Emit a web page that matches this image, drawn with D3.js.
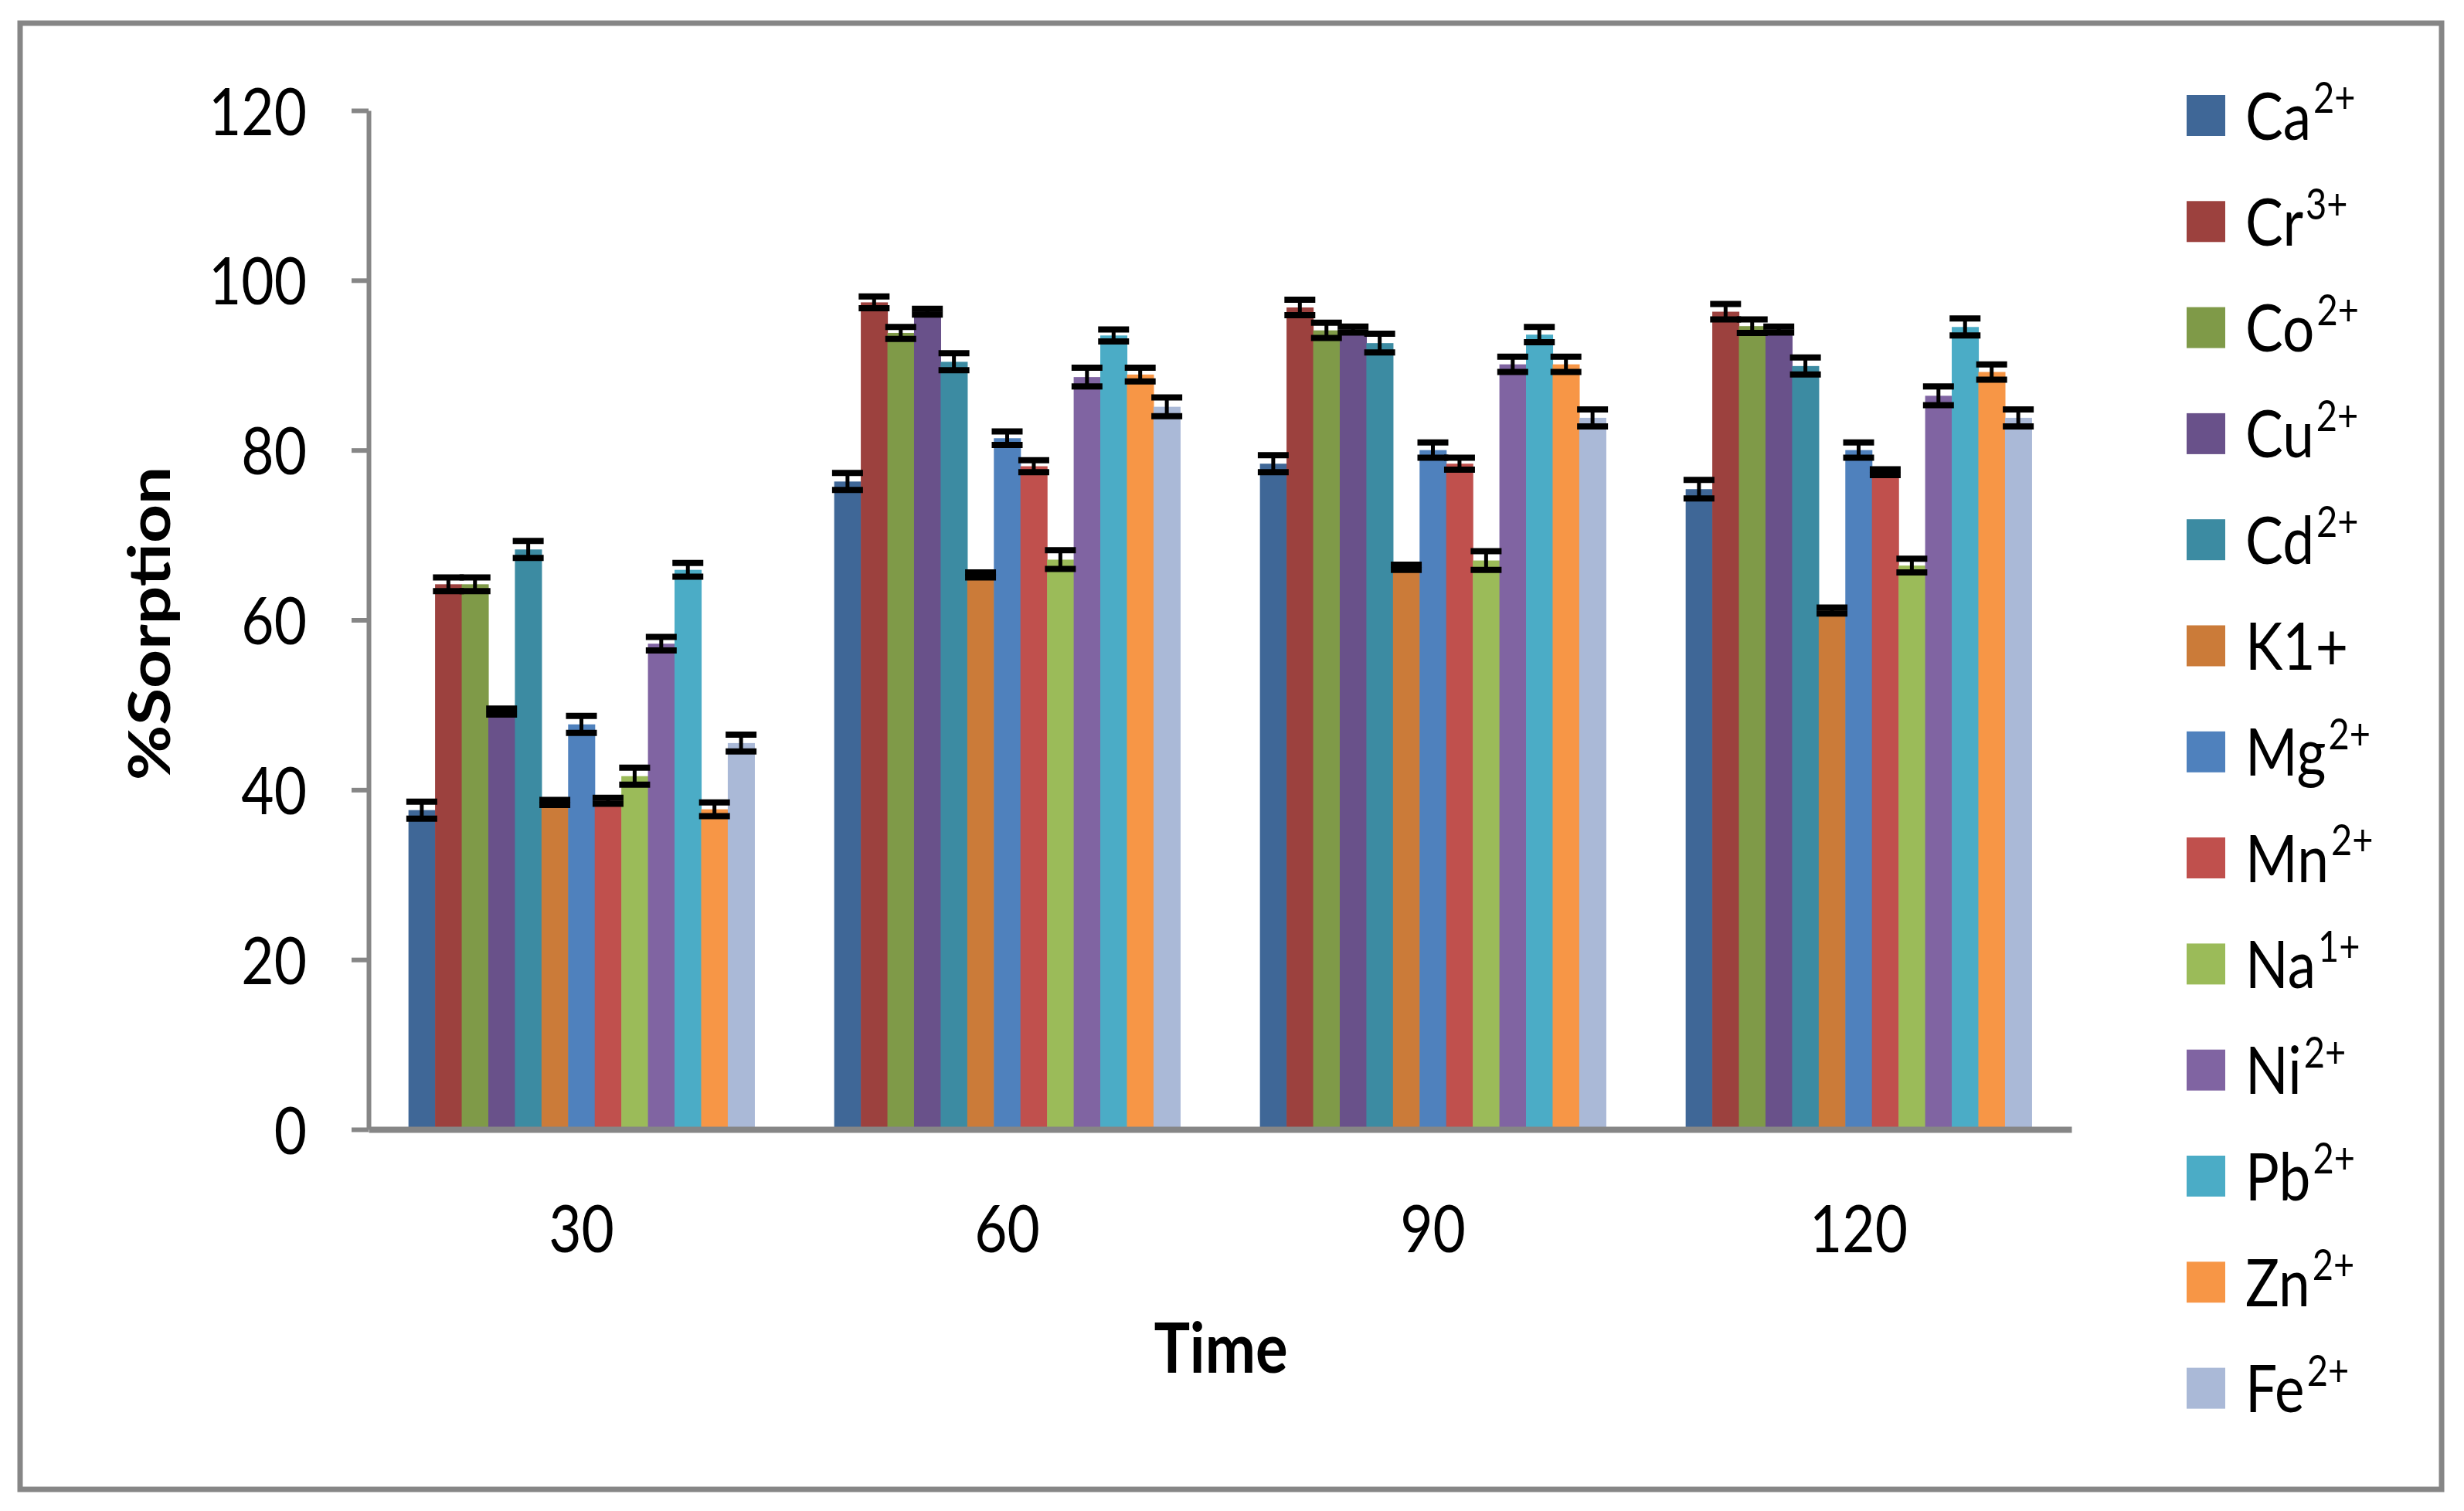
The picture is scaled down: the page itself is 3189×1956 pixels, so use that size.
<!DOCTYPE html>
<html>
<head>
<meta charset="utf-8">
<script src="https://cdn.jsdelivr.net/npm/d3@7"></script>
<style>
  body { margin: 0; background: #fff; }
  text { font-family: Lato, "Open Sans", sans-serif; fill: #000; }
</style>
</head>
<body>
<script>
var W = 3189, H = 1956
var margin = {top: 143, right: 508, bottom: 494, left: 477}

// data
var times = ["30", "60", "90", "120"]
var ions = ["Ca", "Cr", "Co", "Cu", "Cd", "K1+", "Mg", "Mn", "Na", "Ni", "Pb", "Zn", "Fe"]
var charges = ["2+", "3+", "2+", "2+", "2+", "", "2+", "2+", "1+", "2+", "2+", "2+", "2+"]
var colors = ["#3F6797", "#9C413E", "#7F9A48", "#69518A", "#3C8BA2", "#CB7B39", "#4F81BD",
              "#C0504D", "#9BBB59", "#8064A2", "#4BACC6", "#F79646", "#AAB9D7"]

var s30  = [37.6, 64.2, 64.2, 49.2, 68.3, 38.5, 47.7, 38.7, 41.6, 57.2, 65.9, 37.7, 45.5]
var s60  = [76.3, 97.4, 93.8, 96.3, 90.4, 65.3, 81.4, 78.1, 67.1, 88.6, 93.5, 88.9, 85.1]
var s90  = [78.4, 96.8, 94.1, 94.2, 92.6, 66.2, 80.0, 78.4, 67.0, 90.1, 93.6, 90.1, 83.8]
var s120 = [75.4, 96.3, 94.6, 94.2, 89.9, 61.1, 80.0, 77.4, 66.4, 86.4, 94.5, 89.2, 83.8]

var e30  = [1.0, 0.8, 0.8, 0.35, 1.0, 0.3, 1.0, 0.35, 1.0, 0.8, 0.8, 0.8, 1.0]
var e60  = [1.0, 0.7, 0.7, 0.35, 1.0, 0.3, 0.8, 0.7, 1.1, 1.1, 0.7, 0.8, 1.1]
var e90  = [1.0, 0.9, 0.9, 0.35, 1.1, 0.3, 0.9, 0.7, 1.1, 0.9, 0.9, 0.9, 1.0]
var e120 = [1.1, 0.9, 0.8, 0.35, 1.0, 0.35, 0.9, 0.35, 0.8, 1.1, 1.0, 0.9, 1.0]

var yTicks = [0, 20, 40, 60, 80, 100, 120]

var values = [s30, s60, s90, s120]
var errors = [e30, e60, e90, e120]

var stretch = 1.18   // the picture's text is a bit taller than wide
var grey = "#868686"

var width = W - margin.left - margin.right
var height = H - margin.top - margin.bottom

var svg = d3.select("body").append("svg")
    .attr("width", W)
    .attr("height", H)

svg.append("rect").attr("width", W).attr("height", H).attr("fill", "#fff")

// outer frame
svg.append("rect")
    .attr("x", 26).attr("y", 30)
    .attr("width", 3134).attr("height", 1898)
    .attr("fill", "none")
    .attr("stroke", grey)
    .attr("stroke-width", 7)

var g = svg.append("g")
    .attr("transform", "translate(" + margin.left + "," + margin.top + ")")

var x0 = d3.scaleBand()
    .domain(times)
    .range([0, width])
    .paddingInner(3 / 16)
    .paddingOuter(3 / 32)
var x1 = d3.scaleBand()
    .domain(ions)
    .range([0, x0.bandwidth()])
var yScale = d3.scaleLinear()
    .domain([0, 120])
    .range([height, 0])

var groups = g.selectAll(".group")
    .data(times)
    .enter().append("g")
    .attr("class", "group")
    .attr("transform", function(d) { return "translate(" + x0(d) + ",0)" })

groups.each(function(t, ti) {
    var rows = ions.map(function(ion, i) {
        return {ion: ion, v: values[ti][i], e: errors[ti][i], c: colors[i]}
    })
    var grp = d3.select(this)
    grp.selectAll("rect")
        .data(rows)
        .enter().append("rect")
        .attr("x", function(d) { return x1(d.ion) })
        .attr("y", function(d) { return yScale(d.v) })
        .attr("width", x1.bandwidth() + 0.6)
        .attr("height", function(d) { return yScale(0) - yScale(d.v) })
        .attr("fill", function(d) { return d.c })

    var eb = grp.selectAll(".err")
        .data(rows)
        .enter().append("g")
        .attr("class", "err")
        .attr("transform", function(d) { return "translate(" + (x1(d.ion) + x1.bandwidth() / 2) + ",0)" })
    eb.append("line")
        .attr("y1", function(d) { return yScale(d.v - d.e) })
        .attr("y2", function(d) { return yScale(d.v + d.e) })
        .attr("stroke", "#000").attr("stroke-width", 5)
    eb.append("line")
        .attr("x1", -20).attr("x2", 20)
        .attr("y1", function(d) { return yScale(d.v + d.e) })
        .attr("y2", function(d) { return yScale(d.v + d.e) })
        .attr("stroke", "#000").attr("stroke-width", 8)
    eb.append("line")
        .attr("x1", -20).attr("x2", 20)
        .attr("y1", function(d) { return yScale(d.v - d.e) })
        .attr("y2", function(d) { return yScale(d.v - d.e) })
        .attr("stroke", "#000").attr("stroke-width", 8)
})

// y axis
var yAxis = g.append("g")
    .call(d3.axisLeft(yScale).tickValues(yTicks).tickSize(22).tickSizeOuter(0).tickPadding(58))
yAxis.select(".domain").attr("stroke", grey).attr("stroke-width", 6)
yAxis.selectAll(".tick line").attr("stroke", grey).attr("stroke-width", 6)
yAxis.selectAll(".tick text")
    .attr("font-family", "Lato, sans-serif")
    .attr("font-size", 73)
    .attr("fill", "#000")
    .attr("dy", "0.36em")
    .attr("transform", "scale(1," + stretch + ")")

// x axis
var xAxis = g.append("g")
    .attr("transform", "translate(0," + height + ")")
    .call(d3.axisBottom(x0).tickSize(0).tickSizeOuter(0))
xAxis.select(".domain").attr("stroke", grey).attr("stroke-width", 8)
xAxis.selectAll(".tick text")
    .attr("font-family", "Lato, sans-serif")
    .attr("font-size", 73)
    .attr("fill", "#000")
    .attr("y", 0).attr("dy", 0)
    .attr("transform", "translate(0,159) scale(1," + stretch + ")")

// axis titles
svg.append("g")
    .attr("transform", "translate(1580,1777) scale(1,1.15)")
    .append("text")
    .attr("text-anchor", "middle")
    .attr("font-size", 78)
    .attr("font-weight", "bold")
    .text("Time")

svg.append("g")
    .attr("transform", "translate(220,807) rotate(-90) scale(" + stretch + ",1)")
    .append("text")
    .attr("text-anchor", "middle")
    .attr("font-size", 74)
    .attr("font-weight", "bold")
    .text("%Sorption")

// legend
var legend = svg.append("g").attr("class", "legend")
var items = legend.selectAll(".item")
    .data(ions)
    .enter().append("g")
    .attr("class", "item")
    .attr("transform", function(d, i) { return "translate(0," + (149.5 + i * 137.3) + ")" })
items.append("rect")
    .attr("x", 2830).attr("y", -26.5)
    .attr("width", 50).attr("height", 53)
    .attr("fill", function(d, i) { return colors[i] })
var lt = items.append("g")
    .attr("transform", "translate(2906,31) scale(1," + stretch + ")")
    .append("text")
    .attr("font-size", 73)
lt.append("tspan").text(function(d) { return d })
lt.append("tspan")
    .attr("font-size", 47)
    .attr("dx", 3)
    .attr("dy", -29)
    .text(function(d, i) { return charges[i] })
</script>
</body>
</html>
